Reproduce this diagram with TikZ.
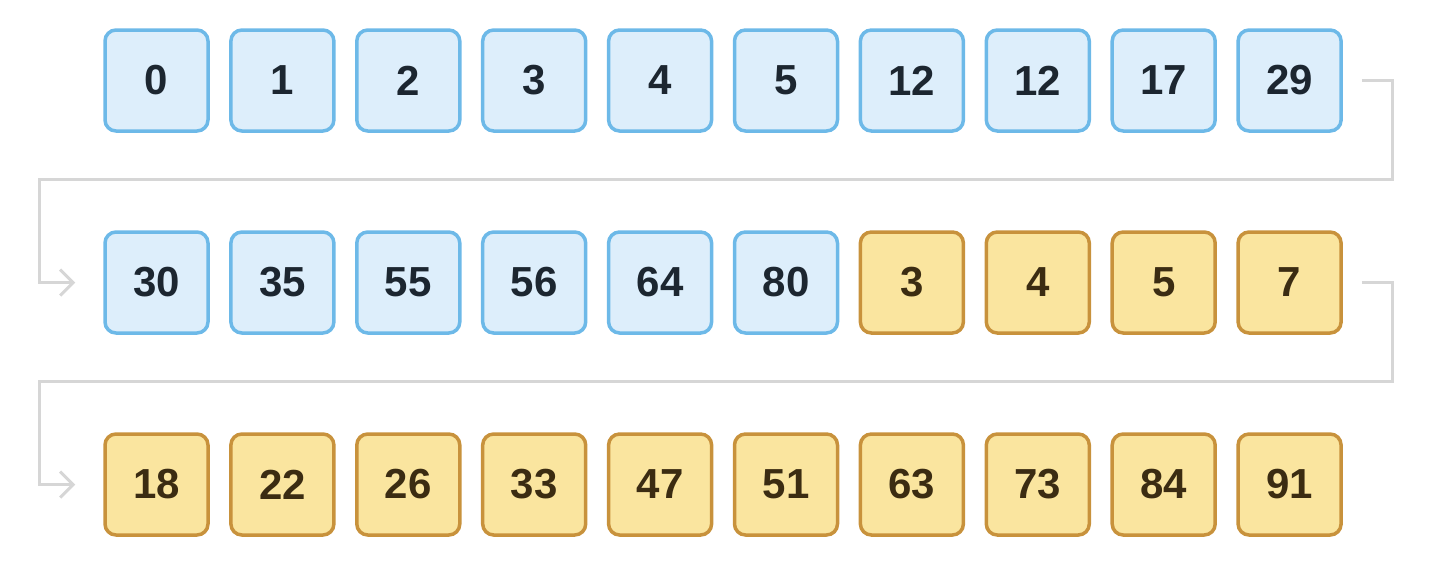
\documentclass[tikz,border=0pt]{standalone}
\usepackage{fontspec}
\setmainfont{Liberation Sans}
\usetikzlibrary{arrows.meta}
\definecolor{bluefill}{HTML}{DDEEFB}
\definecolor{blueline}{HTML}{6DB9E8}
\definecolor{bluetext}{HTML}{1C2630}
\definecolor{goldfill}{HTML}{FAE59F}
\definecolor{goldline}{HTML}{C8923C}
\definecolor{goldtext}{HTML}{3B2C12}
\definecolor{linkgray}{HTML}{D6D6D6}
\tikzset{
    cell/.style={rounded corners=11pt, line width=3.5pt, minimum width=103pt,
        minimum height=101pt, inner sep=0pt,
        font=\fontsize{42}{50}\selectfont\bfseries},
    bluecell/.style={cell, draw=blueline, fill=bluefill, text=bluetext},
    goldcell/.style={cell, draw=goldline, fill=goldfill, text=goldtext},
    link/.style={draw=linkgray, line width=3pt},
}
\begin{document}
\begin{tikzpicture}[x=1pt,y=-1pt,>={Straight Barb[length=13pt,width=26pt]}]
\useasboundingbox (0,0) rectangle (1438,566);
\foreach \v [count=\i] in {0,1,2,3,4,5,12,12,17,29}
{
    \node[bluecell] (a\i) at ({156.5+125.9*(\i-1)},80.5) {\v};
}
\foreach \v/\s [count=\i] in {30/bluecell,35/bluecell,55/bluecell,56/bluecell,64/bluecell,80/bluecell,3/goldcell,4/goldcell,5/goldcell,7/goldcell}
{
    \node[\s] (b\i) at ({156.5+125.9*(\i-1)},282.5) {\v};
}
\foreach \v [count=\i] in {18,22,26,33,47,51,63,73,84,91}
{
    \node[goldcell] (c\i) at ({156.5+125.9*(\i-1)},484.5) {\v};
}
% row to row
\draw[link,->]([xshift=19pt]a10.east)--++(31,0)|-([xshift=-64pt,yshift=103pt]b1.west)
    --([xshift=-64pt]b1.west)--([xshift=-28pt]b1.west);
\draw[link,->]([xshift=19pt]b10.east)--++(31,0)|-([xshift=-64pt,yshift=103pt]c1.west)
    --([xshift=-64pt]c1.west)--([xshift=-28pt]c1.west);
\end{tikzpicture}
\end{document}
